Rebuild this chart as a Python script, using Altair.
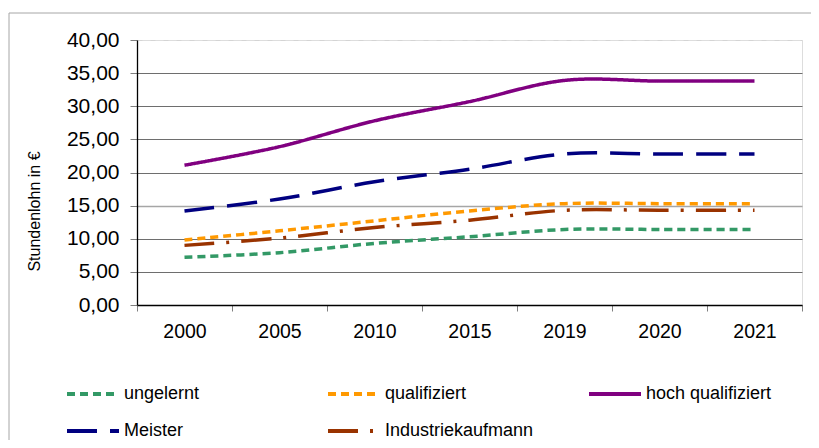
import altair as alt
import pandas as pd

years = ["2000", "2005", "2010", "2015", "2019", "2020", "2021"]
series = ["ungelernt", "qualifiziert", "hoch qualifiziert", "Meister", "Industriekaufmann"]
ungelernt = [7.2, 7.9, 9.3, 10.3, 11.4, 11.4, 11.4]
qualifiziert = [9.8, 11.2, 12.7, 14.2, 15.3, 15.3, 15.3]
hoch_qualifiziert = [21.1, 23.9, 27.8, 30.7, 33.9, 33.8, 33.8]
meister = [14.2, 16.0, 18.6, 20.5, 22.8, 22.8, 22.8]
industriekaufmann = [9.0, 10.1, 11.7, 12.8, 14.3, 14.3, 14.3]
y_ticks = [0, 5, 10, 15, 20, 25, 30, 35, 40]

colors = ["#339966", "#FF9900", "#800080", "#000080", "#993300"]
dashes = [[8, 5], [8, 5], [1, 0], [30, 13], [30, 12, 3, 12]]

rows = []
for name, vals in zip(series, [ungelernt, qualifiziert, hoch_qualifiziert, meister, industriekaufmann]):
    for yr, v in zip(years, vals):
        rows.append({"Jahr": yr, "Gruppe": name, "Wert": v})
df = pd.DataFrame(rows)

FONT = "Liberation Sans"

legend_kw = dict(title=None, orient="none", legendX=-72, legendY=326, direction="horizontal",
                 columns=3, gridAlign="all", columnPadding=47, rowPadding=-26,
                 symbolType="stroke", symbolSize=2704, symbolStrokeWidth=4,
                 labelFont=FONT, labelFontSize=18, labelColor="#000000", labelOffset=3,
                 labelLimit=300)

lines = alt.Chart(df).mark_line(
    interpolate="cardinal", strokeWidth=3.5, strokeCap="butt"
).encode(
    x=alt.X("Jahr:N", sort=years, bandPosition=0.5,
            scale=alt.Scale(type="band", paddingInner=0, paddingOuter=0),
            axis=alt.Axis(title=None, labelAngle=0, tickBand="extent", tickSize=6,
                          tickColor="#7f7f7f", domainColor="#000000", domainWidth=1.3,
                          labelFontSize=19.5, labelColor="#000000", labelFont=FONT,
                          labelPadding=11, grid=False)),
    y=alt.Y("Wert:Q", scale=alt.Scale(domain=[0, 40], nice=False),
            axis=alt.Axis(title="Stundenlohn in €", values=y_ticks,
                          labelExpr="replace(format(datum.value, '.2f'), '.', ',')",
                          labelFontSize=21, labelColor="#000000", labelFont=FONT,
                          labelPadding=11, tickSize=7,
                          tickColor="#7f7f7f", domainColor="#000000", domainWidth=1.3,
                          grid=True,
                          gridColor={"condition": [
                              {"test": "datum.value === 40", "value": "#d4d4d4"},
                              {"test": "datum.value === 15", "value": "#a6a6a6"}],
                              "value": "#6e6e6e"},
                          gridDash={"condition": {"test": "datum.value === 40", "value": [5, 8]},
                                    "value": []},
                          gridWidth={"condition": {"test": "datum.value === 15", "value": 1.6},
                                     "value": 1},
                          titleFont=FONT, titleFontSize=16, titleFontWeight="normal",
                          titleColor="#000000", titleAngle=270, titleX=-103, titleY=171,
                          titleAlign="center", titleBaseline="middle")),
    color=alt.Color("Gruppe:N", sort=series,
                    scale=alt.Scale(domain=series, range=colors),
                    legend=alt.Legend(**legend_kw)),
    strokeDash=alt.StrokeDash("Gruppe:N", sort=series,
                              scale=alt.Scale(domain=series, range=dashes),
                              legend=alt.Legend(**legend_kw)),
)

border = alt.Chart(alt.Data(values=[{"a": 1}])).mark_rect(
    filled=False, stroke="#a6a6a6", strokeWidth=1
).encode(x=alt.value(-128), x2=alt.value(720), y=alt.value(-27), y2=alt.value(440))

chart = alt.layer(border, lines).properties(
    width=665, height=265,
    padding={"left": 129, "top": 32, "right": 9, "bottom": 135},
    autosize=alt.AutoSizeParams(type="none"),
    background="#ffffff",
).configure_view(stroke=None).configure(font=FONT)

chart.save("out.html", embed_options={"renderer": "svg", "actions": False})
